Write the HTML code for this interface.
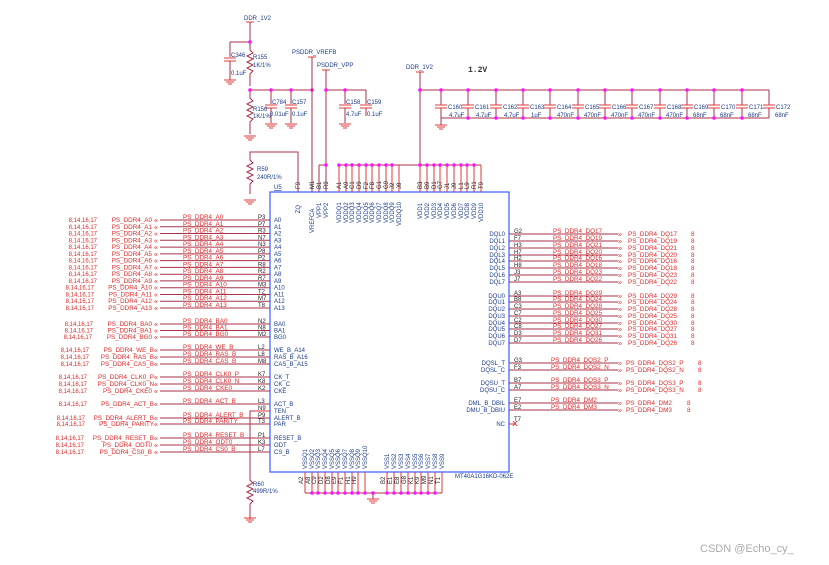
<!DOCTYPE html>
<html><head><meta charset="utf-8"><style>
body{margin:0;background:#fff}
svg{display:block;font-family:"Liberation Sans",sans-serif}
.w{stroke:#a8324a;stroke-width:1;fill:none}
.p{stroke:#e03838;stroke-width:1;fill:none}
.b{stroke:#3b5bff;stroke-width:1.2;fill:none}
.j{fill:#ff10ff}
.pn{font-size:6px;fill:#222}
.pin{font-size:6.3px;fill:#1a3a8a}
.net{font-size:6.3px;fill:#e02828}
.lab{font-size:6.3px;fill:#e02828;text-anchor:end}
.ref{font-size:6px;fill:#e02828;text-anchor:end}
.rl{font-size:6.3px;fill:#e02828}
.k{font-size:6px;fill:#1a3a8a}
.end{text-anchor:end}
.g{stroke:#e03838;fill:none}
</style></head><body>
<svg width="829" height="565" viewBox="0 0 829 565" xmlns="http://www.w3.org/2000/svg">
<!-- chip box -->
<rect class="b" x="270" y="192" width="239" height="280"/>
<text x="274" y="189" class="k" style="text-decoration:underline">U5</text>
<text x="455" y="478" class="k">MT40A1G16KD-062E</text>

<!-- top-left rails -->
<text x="244" y="20" class="k">DDR_1V2</text>
<line class="p" x1="246" y1="22" x2="254" y2="22"/>
<line class="w" x1="250" y1="22" x2="250" y2="50"/>
<line class="w" x1="230" y1="42" x2="250" y2="42"/>
<line class="w" x1="230" y1="42" x2="230" y2="57"/>
<line class="p" x1="224" y1="58" x2="236" y2="58"/><line class="p" x1="224" y1="61" x2="236" y2="61"/>
<line class="w" x1="230" y1="61" x2="230" y2="80"/>
<path class="g" d="M224 80h12M226 82h8M228 84h4"/>
<text x="231" y="57" class="k">C346</text><text x="231" y="75" class="k">0.1uF</text>
<path class="w" d="M250 50l3 3-6 3 6 3-6 3 6 3-6 3 6 3-3 3v12"/>
<text x="253" y="59" class="k">R155</text><text x="253" y="67" class="k">1K/1%</text>
<line class="w" x1="250" y1="90" x2="312" y2="90"/>
<path class="w" d="M250 90v8l3 3-6 3 6 3-6 3 6 3-6 3 6 3-3 3v12"/>
<text x="253" y="111" class="k">R156</text><text x="253" y="118" class="k">1K/1%</text>
<path class="g" d="M244 136h12M246 138h8M248 140h4"/>
<line class="w" x1="271" y1="90" x2="271" y2="104"/>
<line class="p" x1="265" y1="105" x2="277" y2="105"/><line class="p" x1="265" y1="108" x2="277" y2="108"/>
<line class="w" x1="271" y1="108" x2="271" y2="123"/><path class="g" d="M265 124h12M267 126h8M269 128h4"/>
<text x="272" y="104" class="k">C784</text><text x="270" y="116" class="k">0.01uF</text>
<line class="w" x1="291" y1="90" x2="291" y2="104"/>
<line class="p" x1="285" y1="105" x2="297" y2="105"/><line class="p" x1="285" y1="108" x2="297" y2="108"/>
<line class="w" x1="291" y1="108" x2="291" y2="123"/><path class="g" d="M285 124h12M287 126h8M289 128h4"/>
<text x="292" y="104" class="k">C157</text><text x="292" y="116" class="k">0.1uF</text>
<circle class="j" cx="250" cy="42" r="1.8"/><circle class="j" cx="250" cy="90" r="1.8"/><circle class="j" cx="271" cy="90" r="1.8"/><circle class="j" cx="291" cy="90" r="1.8"/><circle class="j" cx="312" cy="90" r="1.8"/>

<!-- VREFCA / VPP -->
<text x="292" y="54" class="k">PSDDR_VREFB</text>
<line class="p" x1="308" y1="57" x2="316" y2="57"/>
<line class="w" x1="312" y1="57" x2="312" y2="192"/>
<text x="317" y="67" class="k">PSDDR_VPP</text>
<line class="p" x1="322" y1="70" x2="330" y2="70"/>
<line class="w" x1="326" y1="70" x2="326" y2="192"/>
<line class="w" x1="319" y1="165" x2="326" y2="165"/><line class="w" x1="319" y1="165" x2="319" y2="192"/>
<line class="w" x1="326" y1="90" x2="366" y2="90"/>
<line class="w" x1="345" y1="90" x2="345" y2="104"/>
<line class="p" x1="339" y1="105" x2="351" y2="105"/><line class="p" x1="339" y1="108" x2="351" y2="108"/>
<line class="w" x1="345" y1="108" x2="345" y2="123"/><path class="g" d="M339 124h12M341 126h8M343 128h4"/>
<text x="346" y="104" class="k">C158</text><text x="346" y="116" class="k">4.7uF</text>
<line class="w" x1="366" y1="90" x2="366" y2="104"/>
<line class="p" x1="360" y1="105" x2="372" y2="105"/><line class="p" x1="360" y1="108" x2="372" y2="108"/>
<line class="w" x1="366" y1="108" x2="366" y2="116"/>
<text x="367" y="104" class="k">C159</text><text x="367" y="116" class="k">0.1uF</text>
<circle class="j" cx="326" cy="90" r="1.8"/><circle class="j" cx="345" cy="90" r="1.8"/><circle class="j" cx="326" cy="165" r="1.8"/>

<!-- ZQ / R59 -->
<path class="w" d="M298 192V152H250v8l3 3-6 3 6 3-6 3 6 3-6 3 6 3-3 3v10"/>
<path class="g" d="M244 200h12M246 202h8M248 204h4"/>
<text x="257" y="171" class="k">R59</text><text x="257" y="179" class="k">240R/1%</text>

<!-- DDR_1V2 right + caps -->
<text x="406" y="69" class="k">DDR_1V2</text>
<line class="p" x1="416" y1="72" x2="424" y2="72"/>
<line class="w" x1="420" y1="72" x2="420" y2="192"/>
<text x="468" y="72" style="font-family:'Liberation Mono',monospace;font-size:8px;font-weight:bold;fill:#333">1.2V</text>
<line class="w" x1="420" y1="90" x2="769" y2="90"/>
<line class="w" x1="441" y1="118" x2="769" y2="118"/>
<path class="g" d="M435 125h12M437 127h8M439 129h4"/><line class="w" x1="441" y1="118" x2="441" y2="125"/>
<g id="caps">
<path class="w" d="M441 90v15M441 108v10M468 90v15M468 108v10M496 90v15M496 108v10M523 90v15M523 108v10M550 90v15M550 108v10M578 90v15M578 108v10M605 90v15M605 108v10M632 90v15M632 108v10M660 90v15M660 108v10M687 90v15M687 108v10M714 90v15M714 108v10M742 90v15M742 108v10M769 90v15M769 108v10"/>
<path class="p" d="M435 105h12M435 108h12M462 105h12M462 108h12M490 105h12M490 108h12M517 105h12M517 108h12M544 105h12M544 108h12M572 105h12M572 108h12M599 105h12M599 108h12M626 105h12M626 108h12M654 105h12M654 108h12M681 105h12M681 108h12M708 105h12M708 108h12M736 105h12M736 108h12M763 105h12M763 108h12"/>
</g>
<g class="j">
<circle cx="420" cy="90" r="1.8"/><circle cx="441" cy="90" r="1.8"/><circle cx="468" cy="90" r="1.8"/><circle cx="496" cy="90" r="1.8"/><circle cx="523" cy="90" r="1.8"/><circle cx="550" cy="90" r="1.8"/><circle cx="578" cy="90" r="1.8"/><circle cx="605" cy="90" r="1.8"/><circle cx="632" cy="90" r="1.8"/><circle cx="660" cy="90" r="1.8"/><circle cx="687" cy="90" r="1.8"/><circle cx="714" cy="90" r="1.8"/><circle cx="742" cy="90" r="1.8"/>
<circle cx="468" cy="118" r="1.8"/><circle cx="496" cy="118" r="1.8"/><circle cx="523" cy="118" r="1.8"/><circle cx="550" cy="118" r="1.8"/><circle cx="578" cy="118" r="1.8"/><circle cx="605" cy="118" r="1.8"/><circle cx="632" cy="118" r="1.8"/><circle cx="660" cy="118" r="1.8"/><circle cx="687" cy="118" r="1.8"/><circle cx="714" cy="118" r="1.8"/><circle cx="742" cy="118" r="1.8"/>
</g>
<g class="k">
<text x="448" y="109">C160</text><text x="449" y="117">4.7uF</text>
<text x="475" y="109">C161</text><text x="476" y="117">4.7uF</text>
<text x="503" y="109">C162</text><text x="504" y="117">4.7uF</text>
<text x="530" y="109">C163</text><text x="531" y="117">1uF</text>
<text x="557" y="109">C164</text><text x="557" y="117">470nF</text>
<text x="585" y="109">C165</text><text x="584" y="117">470nF</text>
<text x="612" y="109">C166</text><text x="611" y="117">470nF</text>
<text x="639" y="109">C167</text><text x="638" y="117">470nF</text>
<text x="667" y="109">C168</text><text x="666" y="117">470nF</text>
<text x="694" y="109">C169</text><text x="693" y="117">68nF</text>
<text x="721" y="109">C170</text><text x="720" y="117">68nF</text>
<text x="749" y="109">C171</text><text x="748" y="117">68nF</text>
<text x="776" y="109">C172</text><text x="775" y="117">68nF</text>
</g>

<!-- top VDD pins -->
<line class="w" x1="339" y1="165" x2="481" y2="165"/>
<path class="p" d="M339 165v27M346 165v27M352 165v27M359 165v27M366 165v27M372 165v27M379 165v27M386 165v27M392 165v27M399 165v27M420 165v27M427 165v27M434 165v27M440 165v27M447 165v27M454 165v27M461 165v27M467 165v27M474 165v27M481 165v27"/>
<g class="j"><circle cx="339" cy="165" r="1.8"/><circle cx="346" cy="165" r="1.8"/><circle cx="352" cy="165" r="1.8"/><circle cx="359" cy="165" r="1.8"/><circle cx="366" cy="165" r="1.8"/><circle cx="372" cy="165" r="1.8"/><circle cx="379" cy="165" r="1.8"/><circle cx="386" cy="165" r="1.8"/><circle cx="392" cy="165" r="1.8"/><circle cx="420" cy="165" r="1.8"/><circle cx="427" cy="165" r="1.8"/><circle cx="434" cy="165" r="1.8"/><circle cx="440" cy="165" r="1.8"/><circle cx="447" cy="165" r="1.8"/><circle cx="454" cy="165" r="1.8"/><circle cx="461" cy="165" r="1.8"/><circle cx="467" cy="165" r="1.8"/><circle cx="474" cy="165" r="1.8"/></g>
<g class="pn">
<text transform="translate(300,189) rotate(-90)">F9</text><text transform="translate(314,189) rotate(-90)">M1</text><text transform="translate(321,189) rotate(-90)">B1</text><text transform="translate(328,189) rotate(-90)">R9</text>
<text transform="translate(341,189) rotate(-90)">A1</text><text transform="translate(348,189) rotate(-90)">A9</text><text transform="translate(354,189) rotate(-90)">C1</text><text transform="translate(361,189) rotate(-90)">D9</text><text transform="translate(368,189) rotate(-90)">F2</text><text transform="translate(374,189) rotate(-90)">F8</text><text transform="translate(381,189) rotate(-90)">G1</text><text transform="translate(388,189) rotate(-90)">G9</text><text transform="translate(394,189) rotate(-90)">J2</text><text transform="translate(401,189) rotate(-90)">J8</text>
<text transform="translate(422,189) rotate(-90)">B3</text><text transform="translate(429,189) rotate(-90)">B9</text><text transform="translate(436,189) rotate(-90)">D1</text><text transform="translate(442,189) rotate(-90)">G7</text><text transform="translate(449,189) rotate(-90)">J1</text><text transform="translate(456,189) rotate(-90)">J9</text><text transform="translate(463,189) rotate(-90)">L1</text><text transform="translate(469,189) rotate(-90)">L9</text><text transform="translate(476,189) rotate(-90)">R1</text><text transform="translate(483,189) rotate(-90)">T9</text>
</g>
<g class="k">
<text transform="translate(300,205) rotate(-90)" class="end">ZQ</text><text transform="translate(314,233) rotate(-90)">VREFCA</text>
<text transform="translate(321,218) rotate(-90)">VPP1</text><text transform="translate(328,218) rotate(-90)">VPP2</text>
<text transform="translate(341,223) rotate(-90)">VDDQ1</text><text transform="translate(348,223) rotate(-90)">VDDQ2</text><text transform="translate(354,223) rotate(-90)">VDDQ3</text><text transform="translate(361,223) rotate(-90)">VDDQ4</text><text transform="translate(368,223) rotate(-90)">VDDQ5</text><text transform="translate(374,223) rotate(-90)">VDDQ6</text><text transform="translate(381,223) rotate(-90)">VDDQ7</text><text transform="translate(388,223) rotate(-90)">VDDQ8</text><text transform="translate(394,223) rotate(-90)">VDDQ9</text><text transform="translate(401,226) rotate(-90)">VDDQ10</text>
<text transform="translate(422,219) rotate(-90)">VDD1</text><text transform="translate(429,219) rotate(-90)">VDD2</text><text transform="translate(436,219) rotate(-90)">VDD3</text><text transform="translate(442,219) rotate(-90)">VDD4</text><text transform="translate(449,219) rotate(-90)">VDD5</text><text transform="translate(456,219) rotate(-90)">VDD6</text><text transform="translate(463,219) rotate(-90)">VDD7</text><text transform="translate(469,219) rotate(-90)">VDD8</text><text transform="translate(476,219) rotate(-90)">VDD9</text><text transform="translate(483,222) rotate(-90)">VDD10</text>
</g>

<!-- left pins -->
<g id="L">
<path class="w" d="M160 220H270M160 226.8H270M160 233.5H270M160 240.3H270M160 247.1H270M160 253.9H270M160 260.6H270M160 267.4H270M160 274.2H270M160 280.9H270M160 287.7H270M160 294.5H270M160 301.2H270M160 308H270M160 324H270M160 330.5H270M160 337H270M160 350H270M160 357H270M160 364H270M160 377H270M160 384H270M160 391H270M160 404H270M160 418H270M160 424H270M160 438H270M160 445H270M160 452H270"/>
<line class="p" x1="255" y1="411" x2="270" y2="411"/>
<path class="w" d="M255 411H250V480l3 3-6 3 6 3-6 3 6 3-6 3 6 3-3 3v15"/>
<path class="g" d="M244 518h12M246 520h8M248 522h4"/>
<text x="253" y="486" class="k">R60</text><text x="253" y="493" class="k">499R/1%</text>
</g>
<g class="pn">
<text x="258" y="219">P3</text><text x="258" y="225.8">P7</text><text x="258" y="232.5">R3</text><text x="258" y="239.3">N7</text><text x="258" y="246.1">N3</text><text x="258" y="252.9">P8</text><text x="258" y="259.6">P2</text><text x="258" y="266.4">R8</text><text x="258" y="273.2">R2</text><text x="258" y="279.9">R7</text><text x="258" y="286.7">M3</text><text x="258" y="293.5">T2</text><text x="258" y="300.2">M7</text><text x="258" y="307">T8</text>
<text x="258" y="323">N2</text><text x="258" y="329.5">N8</text><text x="258" y="336">M2</text>
<text x="258" y="349">L2</text><text x="258" y="356">L8</text><text x="258" y="363">M8</text>
<text x="258" y="376">K7</text><text x="258" y="383">K8</text><text x="258" y="390">K2</text>
<text x="258" y="403">L3</text><text x="258" y="410">N9</text><text x="258" y="417">P9</text><text x="258" y="423">T3</text>
<text x="258" y="437">P1</text><text x="258" y="444">K3</text><text x="258" y="451">L7</text>
</g>
<g class="k">
<text x="274" y="222">A0</text><text x="274" y="228.8">A1</text><text x="274" y="235.5">A2</text><text x="274" y="242.3">A3</text><text x="274" y="249.1">A4</text><text x="274" y="255.9">A5</text><text x="274" y="262.6">A6</text><text x="274" y="269.4">A7</text><text x="274" y="276.2">A8</text><text x="274" y="282.9">A9</text><text x="274" y="289.7">A10</text><text x="274" y="296.5">A11</text><text x="274" y="303.2">A12</text><text x="274" y="310">A13</text>
<text x="274" y="326">BA0</text><text x="274" y="332.5">BA1</text><text x="274" y="339">BG0</text>
<text x="274" y="352">WE_B_A14</text><text x="274" y="359">RAS_B_A16</text><text x="274" y="366">CAS_B_A15</text>
<text x="274" y="379">CK_T</text><text x="274" y="386">CK_C</text><text x="274" y="393">CKE</text>
<text x="274" y="406">ACT_B</text><text x="274" y="413">TEN</text><text x="274" y="420">ALERT_B</text><text x="274" y="426">PAR</text>
<text x="274" y="440">RESET_B</text><text x="274" y="447">ODT</text><text x="274" y="454">CS_B</text>
</g>
<g class="net">
<text x="183" y="219">PS_DDR4_A0</text><text x="183" y="225.8">PS_DDR4_A1</text><text x="183" y="232.5">PS_DDR4_A2</text><text x="183" y="239.3">PS_DDR4_A3</text><text x="183" y="246.1">PS_DDR4_A4</text><text x="183" y="252.9">PS_DDR4_A5</text><text x="183" y="259.6">PS_DDR4_A6</text><text x="183" y="266.4">PS_DDR4_A7</text><text x="183" y="273.2">PS_DDR4_A8</text><text x="183" y="279.9">PS_DDR4_A9</text><text x="183" y="286.7">PS_DDR4_A10</text><text x="183" y="293.5">PS_DDR4_A11</text><text x="183" y="300.2">PS_DDR4_A12</text><text x="183" y="307">PS_DDR4_A13</text>
<text x="183" y="323">PS_DDR4_BA0</text><text x="183" y="329.5">PS_DDR4_BA1</text><text x="183" y="336">PS_DDR4_BG0</text>
<text x="183" y="349">PS_DDR4_WE_B</text><text x="183" y="356">PS_DDR4_RAS_B</text><text x="183" y="363">PS_DDR4_CAS_B</text>
<text x="183" y="376">PS_DDR4_CLK0_P</text><text x="183" y="383">PS_DDR4_CLK0_N</text><text x="183" y="390">PS_DDR4_CKE0</text>
<text x="183" y="403">PS_DDR4_ACT_B</text><text x="183" y="417">PS_DDR4_ALERT_B</text><text x="183" y="423">PS_DDR4_PARITY</text>
<text x="183" y="437">PS_DDR4_RESET_B</text><text x="183" y="444">PS_DDR4_ODT0</text><text x="183" y="451">PS_DDR4_CS0_B</text>
</g>
<g class="net" style="font-size:7px">
<text x="154" y="222.5">«</text><text x="154" y="229.3">«</text><text x="154" y="236">«</text><text x="154" y="242.8">«</text><text x="154" y="249.6">«</text><text x="154" y="256.4">«</text><text x="154" y="263.1">«</text><text x="154" y="269.9">«</text><text x="154" y="276.7">«</text><text x="154" y="283.4">«</text><text x="154" y="290.2">«</text><text x="154" y="297">«</text><text x="154" y="303.7">«</text><text x="154" y="310.5">«</text>
<text x="154" y="326.5">«</text><text x="154" y="333">«</text><text x="154" y="339.5">«</text><text x="154" y="352.5">«</text><text x="154" y="359.5">«</text><text x="154" y="366.5">«</text><text x="154" y="379.5">«</text><text x="154" y="386.5">«</text><text x="154" y="393.5">«</text><text x="154" y="406.5">«</text><text x="154" y="420.5">«</text><text x="154" y="426.5">«</text><text x="154" y="440.5">«</text><text x="154" y="447.5">«</text><text x="154" y="454.5">«</text>
</g>
<g class="lab">
<text x="152" y="222">PS_DDR4_A0</text><text x="152" y="228.8">PS_DDR4_A1</text><text x="152" y="235.5">PS_DDR4_A2</text><text x="152" y="242.3">PS_DDR4_A3</text><text x="152" y="249.1">PS_DDR4_A4</text><text x="152" y="255.9">PS_DDR4_A5</text><text x="152" y="262.6">PS_DDR4_A6</text><text x="152" y="269.4">PS_DDR4_A7</text><text x="152" y="276.2">PS_DDR4_A8</text><text x="152" y="282.9">PS_DDR4_A9</text><text x="152" y="289.7">PS_DDR4_A10</text><text x="152" y="296.5">PS_DDR4_A11</text><text x="152" y="303.2">PS_DDR4_A12</text><text x="152" y="310">PS_DDR4_A13</text>
<text x="152" y="326">PS_DDR4_BA0</text><text x="152" y="332.5">PS_DDR4_BA1</text><text x="152" y="339">PS_DDR4_BG0</text>
<text x="154" y="352">PS_DDR4_WE_B</text><text x="154" y="359">PS_DDR4_RAS_B</text><text x="154" y="366">PS_DDR4_CAS_B</text>
<text x="154" y="379">PS_DDR4_CLK0_P</text><text x="154" y="386">PS_DDR4_CLK0_N</text><text x="152" y="393">PS_DDR4_CKE0</text>
<text x="154" y="406">PS_DDR4_ACT_B</text><text x="154" y="420">PS_DDR4_ALERT_B</text><text x="154" y="426">PS_DDR4_PARITY</text>
<text x="154" y="440">PS_DDR4_RESET_B</text><text x="152" y="447">PS_DDR4_ODT0</text><text x="152" y="454">PS_DDR4_CS0_B</text>
</g>
<g class="ref">
<text x="97" y="222">8,14,16,17</text><text x="97" y="228.8">8,14,16,17</text><text x="97" y="235.5">8,14,16,17</text><text x="97" y="242.3">8,14,16,17</text><text x="97" y="249.1">8,14,16,17</text><text x="97" y="255.9">8,14,16,17</text><text x="97" y="262.6">8,14,16,17</text><text x="97" y="269.4">8,14,16,17</text><text x="97" y="276.2">8,14,16,17</text><text x="97" y="282.9">8,14,16,17</text><text x="94" y="289.7">8,14,16,17</text><text x="94" y="296.5">8,14,16,17</text><text x="94" y="303.2">8,14,16,17</text><text x="94" y="310">8,14,16,17</text>
<text x="93" y="326">8,14,16,17</text><text x="93" y="332.5">8,14,16,17</text><text x="92" y="339">8,14,16,17</text>
<text x="89" y="352">8,14,16,17</text><text x="89" y="359">8,14,16,17</text><text x="89" y="366">8,14,16,17</text>
<text x="87" y="379">8,14,16,17</text><text x="87" y="386">8,14,16,17</text><text x="87" y="393">8,14,16,17</text>
<text x="87" y="406">8,14,16,17</text><text x="85" y="420">8,14,16,17</text><text x="85" y="426">8,14,16,17</text>
<text x="84" y="440">8,14,16,17</text><text x="84" y="447">8,14,16,17</text><text x="84" y="454">8,14,16,17</text>
</g>

<!-- right pins -->
<path class="w" d="M509 234H618M509 241H618M509 248H618M509 255H618M509 261H618M509 268H618M509 275H618M509 282H618M509 296H618M509 302H618M509 309H618M509 316H618M509 323H618M509 329H618M509 336H618M509 343H618M509 363H618M509 370H618M509 383H618M509 390H618M509 403H618M509 410H618"/>
<line class="p" x1="509" y1="424" x2="516" y2="424"/><path class="p" d="M513 421l4 5M517 421l-4 5"/>
<g class="pn">
<text x="514" y="233">G2</text><text x="514" y="240">F7</text><text x="514" y="247">H3</text><text x="514" y="254">H7</text><text x="514" y="260">H2</text><text x="514" y="267">H8</text><text x="514" y="274">J3</text><text x="514" y="281">J7</text>
<text x="514" y="295">A3</text><text x="514" y="301">B8</text><text x="514" y="308">C3</text><text x="514" y="315">C7</text><text x="514" y="322">C2</text><text x="514" y="328">C8</text><text x="514" y="335">D3</text><text x="514" y="342">D7</text>
<text x="514" y="362">G3</text><text x="514" y="369">F3</text><text x="514" y="382">B7</text><text x="514" y="389">A7</text><text x="514" y="402">E7</text><text x="514" y="409">E2</text><text x="514" y="421">T7</text>
</g>
<g class="k end">
<text x="505" y="236">DQL0</text><text x="505" y="243">DQL1</text><text x="505" y="250">DQL2</text><text x="505" y="257">DQL3</text><text x="505" y="263">DQL4</text><text x="505" y="270">DQL5</text><text x="505" y="277">DQL6</text><text x="505" y="284">DQL7</text>
<text x="505" y="298">DQU0</text><text x="505" y="304">DQU1</text><text x="505" y="311">DQU2</text><text x="505" y="318">DQU3</text><text x="505" y="325">DQU4</text><text x="505" y="331">DQU5</text><text x="505" y="338">DQU6</text><text x="505" y="345">DQU7</text>
<text x="505" y="365">DQSL_T</text><text x="505" y="372">DQSL_C</text><text x="505" y="385">DQSU_T</text><text x="505" y="392">DQSU_C</text><text x="505" y="405">DML_B_DBIL</text><text x="505" y="412">DMU_B_DBIU</text><text x="505" y="426">NC</text>
</g>
<g class="net">
<text x="553" y="233">PS_DDR4_DQ17</text><text x="553" y="240">PS_DDR4_DQ19</text><text x="553" y="247">PS_DDR4_DQ21</text><text x="553" y="254">PS_DDR4_DQ20</text><text x="553" y="260">PS_DDR4_DQ16</text><text x="553" y="267">PS_DDR4_DQ18</text><text x="553" y="274">PS_DDR4_DQ23</text><text x="553" y="281">PS_DDR4_DQ22</text>
<text x="553" y="295">PS_DDR4_DQ29</text><text x="553" y="301">PS_DDR4_DQ24</text><text x="553" y="308">PS_DDR4_DQ28</text><text x="553" y="315">PS_DDR4_DQ25</text><text x="553" y="322">PS_DDR4_DQ30</text><text x="553" y="328">PS_DDR4_DQ27</text><text x="553" y="335">PS_DDR4_DQ31</text><text x="553" y="342">PS_DDR4_DQ26</text>
<text x="551" y="362">PS_DDR4_DQS2_P</text><text x="551" y="369">PS_DDR4_DQS2_N</text><text x="551" y="382">PS_DDR4_DQS3_P</text><text x="551" y="389">PS_DDR4_DQS3_N</text><text x="551" y="402">PS_DDR4_DM2</text><text x="551" y="409">PS_DDR4_DM3</text>
</g>
<g class="net" style="font-size:7px">
<text x="618" y="236.5">»</text><text x="618" y="243.5">»</text><text x="618" y="250.5">»</text><text x="618" y="257.5">»</text><text x="618" y="263.5">»</text><text x="618" y="270.5">»</text><text x="618" y="277.5">»</text><text x="618" y="284.5">»</text>
<text x="618" y="298.5">»</text><text x="618" y="304.5">»</text><text x="618" y="311.5">»</text><text x="618" y="318.5">»</text><text x="618" y="325.5">»</text><text x="618" y="331.5">»</text><text x="618" y="338.5">»</text><text x="618" y="345.5">»</text>
<text x="618" y="365.5">»</text><text x="618" y="372.5">»</text><text x="618" y="385.5">»</text><text x="618" y="392.5">»</text><text x="618" y="405.5">»</text><text x="618" y="412.5">»</text>
</g>
<g class="rl">
<text x="628" y="236">PS_DDR4_DQ17</text><text x="628" y="243">PS_DDR4_DQ19</text><text x="628" y="250">PS_DDR4_DQ21</text><text x="628" y="257">PS_DDR4_DQ20</text><text x="628" y="263">PS_DDR4_DQ16</text><text x="628" y="270">PS_DDR4_DQ18</text><text x="628" y="277">PS_DDR4_DQ23</text><text x="628" y="284">PS_DDR4_DQ22</text>
<text x="628" y="298">PS_DDR4_DQ29</text><text x="628" y="304">PS_DDR4_DQ24</text><text x="628" y="311">PS_DDR4_DQ28</text><text x="628" y="318">PS_DDR4_DQ25</text><text x="628" y="325">PS_DDR4_DQ30</text><text x="628" y="331">PS_DDR4_DQ27</text><text x="628" y="338">PS_DDR4_DQ31</text><text x="628" y="345">PS_DDR4_DQ26</text>
<text x="626" y="365">PS_DDR4_DQS2_P</text><text x="626" y="372">PS_DDR4_DQS2_N</text><text x="626" y="385">PS_DDR4_DQS3_P</text><text x="626" y="392">PS_DDR4_DQS3_N</text><text x="626" y="405">PS_DDR4_DM2</text><text x="626" y="412">PS_DDR4_DM3</text>
<text x="691" y="236">8</text><text x="691" y="243">8</text><text x="691" y="250">8</text><text x="691" y="257">8</text><text x="691" y="263">8</text><text x="691" y="270">8</text><text x="691" y="277">8</text><text x="691" y="284">8</text>
<text x="691" y="298">8</text><text x="691" y="304">8</text><text x="691" y="311">8</text><text x="691" y="318">8</text><text x="691" y="325">8</text><text x="691" y="331">8</text><text x="691" y="338">8</text><text x="691" y="345">8</text>
<text x="698" y="365">8</text><text x="698" y="372">8</text><text x="698" y="385">8</text><text x="698" y="392">8</text><text x="687" y="405">8</text><text x="687" y="412">8</text>
</g>

<!-- bottom VSS -->
<path class="p" d="M305 472v21M312 472v21M318 472v21M325 472v21M332 472v21M338 472v21M345 472v21M352 472v21M358 472v21M365 472v21M387 472v21M394 472v21M401 472v21M408 472v21M415 472v21M421 472v21M428 472v21M435 472v21M442 472v21"/>
<line class="w" x1="305" y1="493" x2="442" y2="493"/>
<line class="w" x1="373" y1="493" x2="373" y2="499"/><path class="g" d="M367 499h12M369 501h8M371 503h4"/>
<g class="j"><circle cx="312" cy="493" r="1.8"/><circle cx="318" cy="493" r="1.8"/><circle cx="325" cy="493" r="1.8"/><circle cx="332" cy="493" r="1.8"/><circle cx="338" cy="493" r="1.8"/><circle cx="345" cy="493" r="1.8"/><circle cx="352" cy="493" r="1.8"/><circle cx="358" cy="493" r="1.8"/><circle cx="365" cy="493" r="1.8"/><circle cx="373" cy="493" r="1.8"/><circle cx="387" cy="493" r="1.8"/><circle cx="394" cy="493" r="1.8"/><circle cx="401" cy="493" r="1.8"/><circle cx="408" cy="493" r="1.8"/><circle cx="415" cy="493" r="1.8"/><circle cx="421" cy="493" r="1.8"/><circle cx="428" cy="493" r="1.8"/><circle cx="435" cy="493" r="1.8"/></g>
<g class="pn">
<text transform="translate(303,484) rotate(-90)">A2</text><text transform="translate(310,484) rotate(-90)">A8</text><text transform="translate(316,484) rotate(-90)">C9</text><text transform="translate(323,484) rotate(-90)">D2</text><text transform="translate(330,484) rotate(-90)">D8</text><text transform="translate(336,484) rotate(-90)">E9</text><text transform="translate(343,484) rotate(-90)">F1</text><text transform="translate(350,484) rotate(-90)">H1</text><text transform="translate(356,484) rotate(-90)">H9</text>
<text transform="translate(385,484) rotate(-90)">B2</text><text transform="translate(392,484) rotate(-90)">E1</text><text transform="translate(399,484) rotate(-90)">E8</text><text transform="translate(406,484) rotate(-90)">G8</text><text transform="translate(413,484) rotate(-90)">K1</text><text transform="translate(419,484) rotate(-90)">K9</text><text transform="translate(426,484) rotate(-90)">M9</text><text transform="translate(433,484) rotate(-90)">N1</text><text transform="translate(440,484) rotate(-90)">T1</text>
</g>
<g class="k">
<text transform="translate(307,469) rotate(-90)">VSSQ1</text><text transform="translate(314,469) rotate(-90)">VSSQ2</text><text transform="translate(320,469) rotate(-90)">VSSQ3</text><text transform="translate(327,469) rotate(-90)">VSSQ4</text><text transform="translate(334,469) rotate(-90)">VSSQ5</text><text transform="translate(340,469) rotate(-90)">VSSQ6</text><text transform="translate(347,469) rotate(-90)">VSSQ7</text><text transform="translate(354,469) rotate(-90)">VSSQ8</text><text transform="translate(360,469) rotate(-90)">VSSQ9</text><text transform="translate(367,469) rotate(-90)">VSSQ10</text>
<text transform="translate(389,469) rotate(-90)">VSS1</text><text transform="translate(396,469) rotate(-90)">VSS2</text><text transform="translate(403,469) rotate(-90)">VSS3</text><text transform="translate(410,469) rotate(-90)">VSS4</text><text transform="translate(417,469) rotate(-90)">VSS5</text><text transform="translate(423,469) rotate(-90)">VSS6</text><text transform="translate(430,469) rotate(-90)">VSS7</text><text transform="translate(437,469) rotate(-90)">VSS8</text><text transform="translate(444,469) rotate(-90)">VSS9</text>
</g>

<text x="700" y="552" style="font-size:11px;fill:#aaa">CSDN @Echo_cy_</text>
</svg>
</body></html>
